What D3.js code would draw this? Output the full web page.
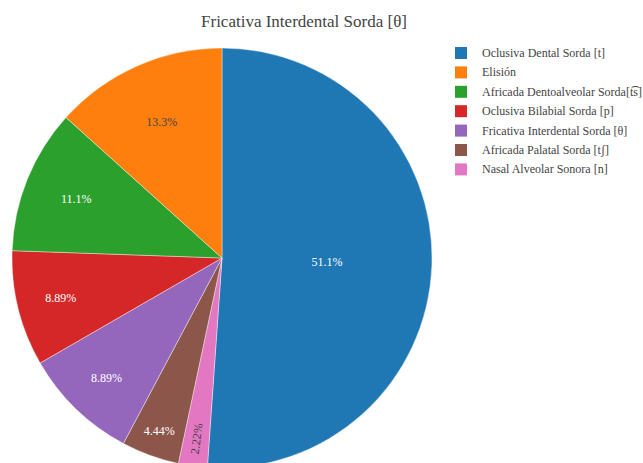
<!DOCTYPE html>
<html>
<head>
<meta charset="utf-8">
<script src="https://cdn.jsdelivr.net/npm/d3@7"></script>
<style>
  html, body { margin: 0; padding: 0; background: #fff; }
  svg { display: block; }
  svg text { font-family: "Liberation Serif", "Times New Roman", Times, "DejaVu Serif", serif; }
</style>
</head>
<body>
<svg id="chart" width="643" height="463"></svg>
<script>
// Sounds that realise /θ/ and how many times each was recorded
const categories = [
  "Oclusiva Dental Sorda [t]",
  "Elisión",
  "Africada Dentoalveolar Sorda[t͡s]",
  "Oclusiva Bilabial Sorda [p]",
  "Fricativa Interdental Sorda [θ]",
  "Africada Palatal Sorda [tʃ]",
  "Nasal Alveolar Sonora [n]"
];
const counts = [23, 6, 5, 4, 4, 2, 1];
const colors = ["#1f77b4", "#ff7f0e", "#2ca02c", "#d62728", "#9467bd", "#8c564b", "#e377c2"];
// order in which slices run clockwise from twelve o'clock
const sliceOrder = [0, 6, 5, 4, 3, 2, 1];
const titleText = "Fricativa Interdental Sorda [θ]";

const svg = d3.select("#chart");
const cx = 222, cy = 258, R = 210;

const total = d3.sum(counts);
const data = sliceOrder.map(i => ({ i, name: categories[i], value: counts[i], color: colors[i] }));

const pie = d3.pie().sort(null).value(d => d.value);
const arcs = pie(data);
const arc = d3.arc().innerRadius(0).outerRadius(R);

const g = svg.append("g").attr("transform", `translate(${cx},${cy})`);

g.selectAll("path.slice")
  .data(arcs)
  .join("path")
  .attr("class", "slice")
  .attr("d", arc)
  .attr("fill", d => d.data.color)
  .attr("stroke", "#fff")
  .attr("stroke-width", 0.4);

const fmt = v => d3.format(".3~r")(v / total * 100) + "%";

// text colour picked for contrast against the slice fill
const textColor = c => {
  const rgb = d3.rgb(c);
  const lum = (0.299 * rgb.r + 0.587 * rgb.g + 0.114 * rgb.b) / 255;
  return lum > 0.58 ? "#444" : "#fff";
};

arcs.forEach(d => {
  const frac = d.data.value / total;
  const mid = (d.startAngle + d.endAngle) / 2;
  const sx = Math.sin(mid), sy = -Math.cos(mid);
  const t = g.append("text")
    .attr("font-size", 12)
    .attr("fill", textColor(d.data.color))
    .attr("text-anchor", "middle")
    .attr("dominant-baseline", "central")
    .text(fmt(d.data.value));
  if (frac < 0.03) {
    // narrow slice: text runs along the radius
    const w = t.node().getComputedTextLength();
    const r = R - w / 2 - 12;
    const rot = Math.atan2(-sy, -sx) * 180 / Math.PI;
    t.attr("transform", `translate(${sx * r},${sy * r}) rotate(${rot})`);
  } else {
    const r = R * Math.max(0.5, 0.96 - 1.9 * frac);
    t.attr("x", sx * r).attr("y", sy * r);
  }
});

// title
svg.append("text")
  .attr("x", 304)
  .attr("y", 27)
  .attr("text-anchor", "middle")
  .attr("font-size", 17)
  .attr("fill", "#444")
  .text(titleText);

// legend
const legend = svg.append("g").attr("transform", "translate(455,53)");
const item = legend.selectAll("g.item")
  .data(categories.map((name, i) => ({ name, color: colors[i] })))
  .join("g")
  .attr("class", "item")
  .attr("transform", (d, i) => `translate(0,${i * 19.4})`);

item.append("rect")
  .attr("x", 0).attr("y", -6)
  .attr("width", 12).attr("height", 12)
  .attr("fill", d => d.color);

item.append("text")
  .attr("x", 27)
  .attr("y", 0)
  .attr("dominant-baseline", "central")
  .attr("font-size", 12)
  .attr("fill", "#444")
  .text(d => d.name);
</script>
</body>
</html>
